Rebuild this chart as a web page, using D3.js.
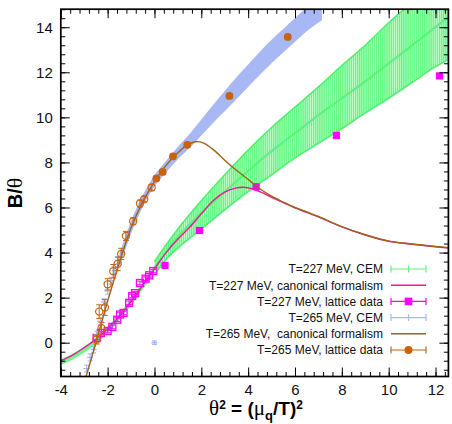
<!DOCTYPE html>
<html>
<head>
<meta charset="utf-8">
<script src="https://cdn.jsdelivr.net/npm/d3@7"></script>
<style>
  html, body { margin: 0; padding: 0; background: #fff; }
  svg { display: block; }
  text { font-family: "Liberation Sans", Arial, Helvetica, sans-serif; }
</style>
</head>
<body>
<svg id="chart" width="452" height="424"></svg>
<script>
// ---------- data ----------
// T=227 MeV, CEM band for theta^2 >= 0 (lower edge, central value, upper edge)
const cem227X   = [0, 0.5, 1, 2, 3, 4, 5, 6, 7, 8, 9, 10, 11, 12, 12.6];
const cem227Lo  = [3.0, 3.7, 4.2, 5.05, 5.9, 6.7, 7.45, 8.2, 8.85, 9.5, 10.2, 10.85, 11.55, 12.25, 12.6];
const cem227Mid = [3.3, 4.05, 4.7, 5.75, 6.7, 7.62, 8.5, 9.3, 10.1, 10.85, 11.6, 12.4, 13.2, 14.0, 14.5];
const cem227Hi  = [3.6, 4.35, 5.05, 6.3, 7.45, 8.55, 9.55, 10.45, 11.35, 12.3, 13.2, 14.2, 15.1, 16.0, 16.6];

// T=227 MeV, CEM for theta^2 < 0
const cem227NegX   = [-4, -3.5, -3, -2.5, -2, -1.5, -1, -0.5, 0];
const cem227NegMid = [-0.88, -0.62, -0.3, 0.08, 0.58, 1.15, 1.8, 2.52, 3.25];
const cem227NegErr = [0.13, 0.13, 0.13, 0.14, 0.14, 0.15, 0.15, 0.16, 0.17];

// T=227 MeV, canonical formalism
const can227X = [-4, -3.5, -3, -2.5, -2, -1.5, -1, -0.5, 0, 0.5, 1, 1.5, 2, 2.5, 3, 3.5, 3.8, 4.2, 4.6, 5, 5.5, 6, 6.5, 7, 8, 9, 10, 11, 12, 12.6];
const can227Y = [-0.8, -0.55, -0.22, 0.15, 0.62, 1.17, 1.82, 2.55, 3.28, 4.0, 4.6, 5.12, 5.72, 6.3, 6.68, 6.87, 6.9, 6.82, 6.66, 6.45, 6.22, 5.98, 5.78, 5.58, 5.14, 4.78, 4.5, 4.37, 4.26, 4.2];

// T=227 MeV, lattice data
const lat227NegX = [-2.47, -2.29, -2.0, -1.8, -1.59, -1.47, -1.32, -1.08, -0.95, -0.83, -0.62, -0.38, -0.23, -0.05];
const lat227NegY = [0.21, 0.43, 0.52, 0.7, 1.02, 1.25, 1.32, 1.77, 2.07, 2.2, 2.65, 2.84, 2.99, 3.18];
const lat227NegErr = [0.08, 0.08, 0.08, 0.08, 0.08, 0.08, 0.08, 0.08, 0.08, 0.08, 0.08, 0.08, 0.08, 0.08];
const lat227PosX = [0.45, 1.92, 4.34, 7.77, 12.17];
const lat227PosY = [3.43, 4.98, 6.92, 9.2, 11.84];
const lat227PosErr = [0.1, 0.1, 0.1, 0.1, 0.1];

// T=265 MeV, CEM band (central value and half width)
const cem265X   = [-1.5, -1, -0.5, 0, 0.5, 1, 1.5, 2, 2.5, 3, 3.5, 4, 4.5, 5, 5.5, 6, 6.5, 7.15];
const cem265Mid = [3.62, 5.12, 6.28, 7.18, 7.82, 8.42, 8.95, 9.55, 10.15, 10.72, 11.3, 11.85, 12.4, 12.92, 13.4, 13.88, 14.35, 14.85];
const cem265Err = [0.3, 0.28, 0.26, 0.25, 0.26, 0.28, 0.31, 0.35, 0.4, 0.45, 0.48, 0.5, 0.51, 0.52, 0.52, 0.53, 0.53, 0.54];
// T=265 MeV, CEM single points
const cem265PtX = [-2.9, -2.75, -2.6, -2.45, -2.3, -2.15, -2.0, -1.85, -1.7, -1.55, 0];
const cem265PtY = [-1.15, -0.65, -0.3, 0.35, 0.95, 1.8, 2.3, 2.75, 3.2, 3.65, 0];
const cem265PtErr = [0.15, 0.15, 0.15, 0.15, 0.15, 0.15, 0.15, 0.15, 0.15, 0.15, 0.08];

// T=265 MeV, canonical formalism
const can265X = [-2.95, -2.5, -2, -1.5, -1, -0.5, 0, 0.5, 1, 1.4, 1.75, 2.1, 2.5, 3, 3.5, 4, 4.5, 5, 5.5, 6, 6.5, 7, 8, 9, 10, 11, 12, 12.6];
const can265Y = [-1.6, 0.0, 1.85, 3.55, 5.1, 6.25, 7.15, 7.88, 8.43, 8.78, 8.92, 8.86, 8.58, 8.1, 7.65, 7.25, 6.83, 6.5, 6.24, 6.0, 5.8, 5.6, 5.15, 4.79, 4.51, 4.38, 4.27, 4.21];

// T=265 MeV, lattice data
const lat265NegX = [-2.47, -2.26, -2.36, -2.12, -2.0, -1.76, -1.57, -1.42, -1.22, -0.91, -0.62, -0.44, -0.12];
const lat265NegY = [0.14, 0.64, 1.38, 1.56, 2.59, 3.17, 3.5, 3.94, 4.74, 5.39, 6.18, 6.37, 6.89];
const lat265NegErr = [0.2, 0.25, 0.3, 0.35, 0.25, 0.3, 0.3, 0.25, 0.2, 0.15, 0.15, 0.12, 0.12];
const lat265PosX = [0.08, 0.35, 0.79, 1.4, 3.2, 5.69];
const lat265PosY = [7.29, 7.58, 8.27, 8.78, 10.95, 13.57];
const lat265PosErr = [0.1, 0.1, 0.1, 0.1, 0.1, 0.1];

// axes
const xMajorTicks = [-4, -2, 0, 2, 4, 6, 8, 10, 12];
const yMajorTicks = [0, 2, 4, 6, 8, 10, 12, 14];

// legend
const legendLabels = [
  "T=227 MeV, CEM",
  "T=227 MeV, canonical formalism",
  "T=227 MeV, lattice data",
  "T=265 MeV, CEM",
  "T=265 MeV,  canonical formalism",
  "T=265 MeV, lattice data"
];

// ---------- drawing ----------
const C = {
  green: "#5ef57f", greenEdge: "#4ff06f", greenMid: "#5cf27c",
  blue: "#a7b8f4", magenta: "#ff00ff", pink: "#f0179a",
  brown: "#9a6515", orange: "#c8620f"
};

const svg = d3.select("#chart");
const P = { left: 60.8, right: 448.4, top: 9.2, bottom: 376.5 };
const x = d3.scaleLinear().domain([-4, 12.55]).range([P.left, P.right]);
const y = d3.scaleLinear().domain([-1.5, 14.8]).range([P.bottom, P.top]);

const defs = svg.append("defs");
defs.append("clipPath").attr("id", "plotClip")
  .append("rect").attr("x", P.left).attr("y", P.top)
  .attr("width", P.right - P.left).attr("height", P.bottom - P.top);
const hatch = defs.append("pattern").attr("id", "cemHatch")
  .attr("patternUnits", "userSpaceOnUse").attr("width", 2.1).attr("height", 8);
hatch.append("rect").attr("width", 2.1).attr("height", 8).attr("fill", "#c4ffce");
hatch.append("rect").attr("width", 1.3).attr("height", 8).attr("fill", "#62f682");

const plot = svg.append("g").attr("clip-path", "url(#plotClip)");

const idx = arr => d3.range(arr.length);

// green CEM band, theta^2 < 0
plot.append("path")
  .attr("d", d3.area()
    .x(i => x(cem227NegX[i]))
    .y0(i => y(cem227NegMid[i] - cem227NegErr[i]))
    .y1(i => y(cem227NegMid[i] + cem227NegErr[i]))
    .curve(d3.curveMonotoneX)(idx(cem227NegX)))
  .attr("fill", "#72f58c");

// green CEM band, theta^2 >= 0
plot.append("path")
  .attr("d", d3.area()
    .x(i => x(cem227X[i]))
    .y0(i => y(cem227Lo[i]))
    .y1(i => y(cem227Hi[i]))
    .curve(d3.curveMonotoneX)(idx(cem227X)))
  .attr("fill", "url(#cemHatch)");
[cem227Lo, cem227Hi].forEach(edge => {
  plot.append("path")
    .attr("d", d3.line().x(i => x(cem227X[i])).y(i => y(edge[i]))
      .curve(d3.curveMonotoneX)(idx(cem227X)))
    .attr("fill", "none").attr("stroke", C.greenEdge).attr("stroke-width", 1.6);
});
plot.append("path")
  .attr("d", d3.line().x(i => x(cem227X[i])).y(i => y(cem227Mid[i]))
    .curve(d3.curveMonotoneX)(idx(cem227X)))
  .attr("fill", "none").attr("stroke", C.greenMid).attr("stroke-width", 2.2);

// magenta canonical curve
plot.append("path")
  .attr("d", d3.line().x(i => x(can227X[i])).y(i => y(can227Y[i]))
    .curve(d3.curveCatmullRom.alpha(0.5))(idx(can227X)))
  .attr("fill", "none").attr("stroke", C.pink).attr("stroke-width", 1.4);

// error bar helper
function errorBars(g, xs, ys, errs, color, cap, width) {
  idx(xs).forEach(i => {
    const cx = x(xs[i]), y0 = y(ys[i] - errs[i]), y1 = y(ys[i] + errs[i]);
    g.append("line").attr("x1", cx).attr("x2", cx).attr("y1", y0).attr("y2", y1)
      .attr("stroke", color).attr("stroke-width", width);
    [y0, y1].forEach(yy => g.append("line")
      .attr("x1", cx - cap).attr("x2", cx + cap).attr("y1", yy).attr("y2", yy)
      .attr("stroke", color).attr("stroke-width", width));
  });
}

// T=227 lattice data
errorBars(plot, lat227NegX, lat227NegY, lat227NegErr, C.magenta, 3, 1);
plot.selectAll(null).data(idx(lat227NegX)).join("rect")
  .attr("x", i => x(lat227NegX[i]) - 3.5).attr("y", i => y(lat227NegY[i]) - 3.5)
  .attr("width", 7).attr("height", 7)
  .attr("fill", "none").attr("stroke", C.magenta).attr("stroke-width", 1.3);
errorBars(plot, lat227PosX, lat227PosY, lat227PosErr, C.magenta, 3, 1);
plot.selectAll(null).data(idx(lat227PosX)).join("rect")
  .attr("x", i => x(lat227PosX[i]) - 3.6).attr("y", i => y(lat227PosY[i]) - 3.6)
  .attr("width", 7.2).attr("height", 7.2).attr("fill", C.magenta);

// blue CEM band and points
plot.append("path")
  .attr("d", d3.area()
    .x(i => x(cem265X[i]))
    .y0(i => y(cem265Mid[i] - cem265Err[i]))
    .y1(i => y(cem265Mid[i] + cem265Err[i]))
    .curve(d3.curveMonotoneX)(idx(cem265X)))
  .attr("fill", C.blue);
errorBars(plot, cem265PtX, cem265PtY, cem265PtErr, C.blue, 2.5, 1.2);
idx(cem265PtX).forEach(i => {
  plot.append("line")
    .attr("x1", x(cem265PtX[i]) - 3).attr("x2", x(cem265PtX[i]) + 3)
    .attr("y1", y(cem265PtY[i])).attr("y2", y(cem265PtY[i]))
    .attr("stroke", C.blue).attr("stroke-width", 1.4);
});

// brown canonical curve
plot.append("path")
  .attr("d", d3.line().x(i => x(can265X[i])).y(i => y(can265Y[i]))
    .curve(d3.curveCatmullRom.alpha(0.5))(idx(can265X)))
  .attr("fill", "none").attr("stroke", C.brown).attr("stroke-width", 1.4);

// T=265 lattice data
errorBars(plot, lat265NegX, lat265NegY, lat265NegErr, C.orange, 3, 1);
plot.selectAll(null).data(idx(lat265NegX)).join("circle")
  .attr("cx", i => x(lat265NegX[i])).attr("cy", i => y(lat265NegY[i])).attr("r", 3.6)
  .attr("fill", "none").attr("stroke", C.orange).attr("stroke-width", 1.2);
errorBars(plot, lat265PosX, lat265PosY, lat265PosErr, C.orange, 3, 1);
plot.selectAll(null).data(idx(lat265PosX)).join("circle")
  .attr("cx", i => x(lat265PosX[i])).attr("cy", i => y(lat265PosY[i])).attr("r", 3.9)
  .attr("fill", C.orange);

// ---------- axes ----------
const fmt = d => String(d);
const xMinor = d3.range(-40, 126, 4).map(v => v / 10);
const yMinor = d3.range(-12, 149, 4).map(v => v / 10);

function styleAxis(g) {
  g.select(".domain").remove();
  g.selectAll(".tick line").attr("stroke", "#000").attr("stroke-width", 1);
  g.selectAll("text").attr("font-size", 15).attr("fill", "#111")
    .attr("font-family", "\"Liberation Sans\", Arial, sans-serif");
}

svg.append("g").attr("transform", `translate(0,${P.bottom})`)
  .call(d3.axisBottom(x).tickValues(xMinor).tickSize(-4.5).tickFormat("")).call(styleAxis);
svg.append("g").attr("transform", `translate(0,${P.bottom})`)
  .call(d3.axisBottom(x).tickValues(xMajorTicks).tickSize(-9).tickPadding(8).tickFormat(fmt)).call(styleAxis);
svg.append("g").attr("transform", `translate(0,${P.top})`)
  .call(d3.axisTop(x).tickValues(xMinor).tickSize(-4.5).tickFormat("")).call(styleAxis);
svg.append("g").attr("transform", `translate(0,${P.top})`)
  .call(d3.axisTop(x).tickValues(xMajorTicks).tickSize(-9).tickFormat("")).call(styleAxis);
svg.append("g").attr("transform", `translate(${P.left},0)`)
  .call(d3.axisLeft(y).tickValues(yMinor).tickSize(-4.5).tickFormat("")).call(styleAxis);
svg.append("g").attr("transform", `translate(${P.left},0)`)
  .call(d3.axisLeft(y).tickValues(yMajorTicks).tickSize(-9).tickPadding(8).tickFormat(fmt)).call(styleAxis);
svg.append("g").attr("transform", `translate(${P.right},0)`)
  .call(d3.axisRight(y).tickValues(yMinor).tickSize(-4.5).tickFormat("")).call(styleAxis);
svg.append("g").attr("transform", `translate(${P.right},0)`)
  .call(d3.axisRight(y).tickValues(yMajorTicks).tickSize(-9).tickFormat("")).call(styleAxis);

// frame
svg.append("rect")
  .attr("x", P.left).attr("y", P.top)
  .attr("width", P.right - P.left).attr("height", P.bottom - P.top)
  .attr("fill", "none").attr("stroke", "#000").attr("stroke-width", 1.7);

// axis titles
const greek = "\"Liberation Serif\", \"DejaVu Serif\", serif";
const yTitle = svg.append("text")
  .attr("transform", "translate(22,193) rotate(-90)")
  .attr("text-anchor", "middle").attr("font-size", 20).attr("font-weight", "bold").attr("fill", "#000");
yTitle.append("tspan").text("B/");
yTitle.append("tspan").attr("font-family", greek).attr("font-weight", "normal").attr("font-size", 22).text("θ");

const xTitle = svg.append("text")
  .attr("x", 256).attr("y", 414.5)
  .attr("text-anchor", "middle").attr("font-size", 19).attr("font-weight", "bold").attr("fill", "#000");
xTitle.append("tspan").attr("font-family", greek).attr("font-weight", "normal").attr("font-size", 21).text("θ");
xTitle.append("tspan").attr("font-size", 12).attr("dy", -6).text("2");
xTitle.append("tspan").attr("dy", 6).text(" = (");
xTitle.append("tspan").attr("font-family", greek).attr("font-weight", "normal").attr("font-size", 21).text("μ");
xTitle.append("tspan").attr("font-size", 13).attr("dy", 5).text("q");
xTitle.append("tspan").attr("dy", -5).text("/T)");
xTitle.append("tspan").attr("font-size", 12).attr("dy", -6).text("2");

// ---------- legend ----------
const legY0 = 269, legDy = 16.2, legTextX = 383, legX0 = 391, legX1 = 426, legXc = 408.5;
const leg = svg.append("g");
legendLabels.forEach((label, i) => {
  const ly = legY0 + i * legDy;
  leg.append("text").attr("x", legTextX).attr("y", ly + 4.3)
    .attr("text-anchor", "end").attr("font-size", 12).attr("fill", "#111")
    .style("white-space", "pre").text(label);
});
function legBar(row, color, width) {
  const ly = legY0 + row * legDy;
  leg.append("line").attr("x1", legX0).attr("x2", legX1).attr("y1", ly).attr("y2", ly)
    .attr("stroke", color).attr("stroke-width", width);
  [legX0, legX1].forEach(xx => leg.append("line")
    .attr("x1", xx).attr("x2", xx).attr("y1", ly - 3.5).attr("y2", ly + 3.5)
    .attr("stroke", color).attr("stroke-width", width));
}
function legPlus(row, color) {
  const ly = legY0 + row * legDy;
  leg.append("line").attr("x1", legXc).attr("x2", legXc).attr("y1", ly - 3.5).attr("y2", ly + 3.5)
    .attr("stroke", color).attr("stroke-width", 1.2);
}
function legLine(row, color) {
  const ly = legY0 + row * legDy;
  leg.append("line").attr("x1", legX0).attr("x2", legX1).attr("y1", ly).attr("y2", ly)
    .attr("stroke", color).attr("stroke-width", 1.6);
}
legBar(0, C.green, 1.2); legPlus(0, C.green);
legLine(1, C.pink);
legBar(2, C.magenta, 1.2);
leg.append("rect").attr("x", legXc - 3.8).attr("y", legY0 + 2 * legDy - 3.8)
  .attr("width", 7.6).attr("height", 7.6).attr("fill", C.magenta);
legBar(3, C.blue, 1.2); legPlus(3, C.blue);
legLine(4, C.brown);
legBar(5, C.orange, 1.2);
leg.append("circle").attr("cx", legXc).attr("cy", legY0 + 5 * legDy).attr("r", 4).attr("fill", C.orange);
</script>
</body>
</html>
